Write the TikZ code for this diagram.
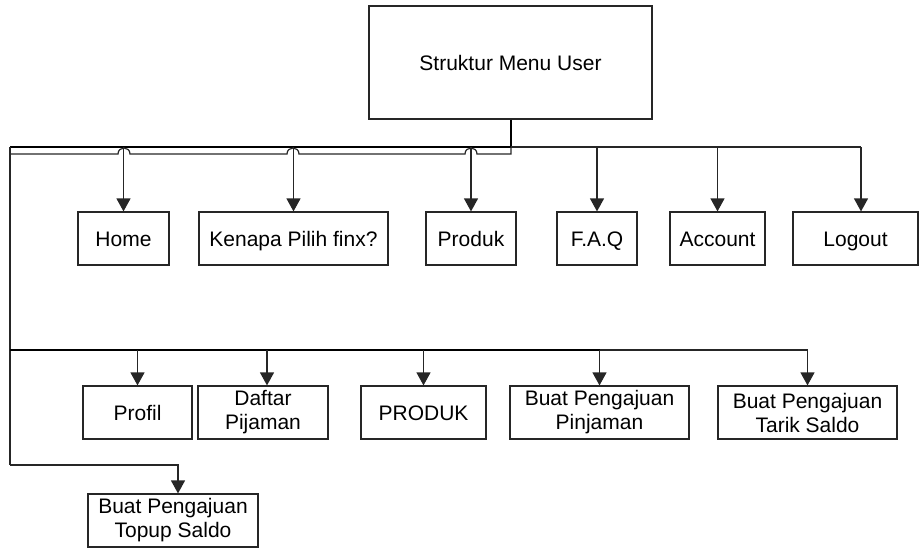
\documentclass[tikz,border=0pt]{standalone}
\usepackage{fontspec}
\setmainfont{Liberation Sans}
\usetikzlibrary{arrows.meta}
\begin{document}
\begin{tikzpicture}[x=0.5pt,y=-0.5pt,
  box/.style={draw=black!85, line width=0.6pt, rectangle, inner sep=0pt, align=center,
    font=\fontsize{10.5}{12}\selectfont, minimum height=26.5pt},
  onebox/.style={box, text height=9pt, text depth=1.5pt},
  wire/.style={draw=black!85, line width=0.6pt},
  heavy/.style={draw=black, line width=1.1pt},
  arr/.style={wire, -{Triangle[width=7pt,length=6.5pt]}}]
\useasboundingbox (0,0) rectangle (920,548);
% nodes
\node[onebox, minimum width=141.5pt, minimum height=56.5pt] (main) at (510.5,62.5) {Struktur Menu User};
\node[onebox, minimum width=45.5pt] (home) at (123.5,238.5) {Home};
\node[onebox, minimum width=94.5pt] (kenapa) at (293.5,238.5) {Kenapa Pilih finx?};
\node[onebox, minimum width=45pt] (produk) at (471,238.5) {Produk};
\node[onebox, minimum width=40pt] (faq) at (597,238.5) {F.A.Q};
\node[onebox, minimum width=47.5pt] (account) at (717.5,238.5) {Account};
\node[onebox, minimum width=62.5pt] (logout) at (855.5,238.5) {Logout};
\node[onebox, minimum width=54.5pt] (profil) at (137.5,412.5) {Profil};
\node[box, minimum width=65pt] (daftar) at (263,412.5) {Daftar\\Pijaman};
\node[onebox, minimum width=62.5pt] (produk2) at (423.5,412.5) {PRODUK};
\node[box, minimum width=89.5pt] (pinjaman) at (599.5,412.5) {Buat Pengajuan\\Pinjaman};
\node[box, minimum width=89.5pt] (tarik) at (807.5,412.5) {Buat Pengajuan\\Tarik Saldo};
\node[box, minimum width=85pt] (topup) at (173,520.5) {Buat Pengajuan\\Topup Saldo};
% bus coordinates
\coordinate (busA) at (511,147);
\coordinate (busL) at (10,147);
\coordinate (busR) at (861,147);
\coordinate (busB) at (511,154);
\coordinate (rowL) at (10,350);
\coordinate (rowM) at (600,350);
\coordinate (rowR) at (808,350);
\coordinate (topL) at (10,465);
% main to first bus
\draw[heavy] (main.south -| busA) -- (busA);
\draw[heavy] (busA) -- (busL);
\draw[wire] (busA) -- (busR);
% second line with hops
\draw[wire] (busA) -- (busB) -- (477,154)
  .. controls (477,146) and (465,146) .. (465,154) -- (299,154)
  .. controls (299,146) and (287,146) .. (287,154) -- (130,154)
  .. controls (130,146) and (118,146) .. (118,154) -- (10,154);
% arrows to first row
\draw[arr] (home.north |- busL) -- (home.north);
\draw[arr] (kenapa.north |- busL) -- (kenapa.north);
\draw[arr] (produk.north |- busL) -- (produk.north);
\draw[arr] (faq.north |- busL) -- (faq.north);
\draw[arr] (account.north |- busL) -- (account.north);
\draw[arr] ([xshift=2.75pt]logout.north |- busL) -- ([xshift=2.75pt]logout.north);
% left vertical
\draw[wire] (busL) -- (topL);
% second row bus
\draw[heavy] (rowL) -- (rowM);
\draw[wire] (rowM) -- (rowR);
\draw[arr] (profil.north |- rowL) -- (profil.north);
\draw[arr] ([xshift=2pt]daftar.north |- rowL) -- ([xshift=2pt]daftar.north);
\draw[arr] (produk2.north |- rowL) -- (produk2.north);
\draw[arr] (pinjaman.north |- rowL) -- (pinjaman.north);
\draw[arr] (tarik.north |- rowL) -- (tarik.north);
% topup
\draw[arr] (topL) -| ([xshift=2.5pt]topup.north);
\end{tikzpicture}
\end{document}
